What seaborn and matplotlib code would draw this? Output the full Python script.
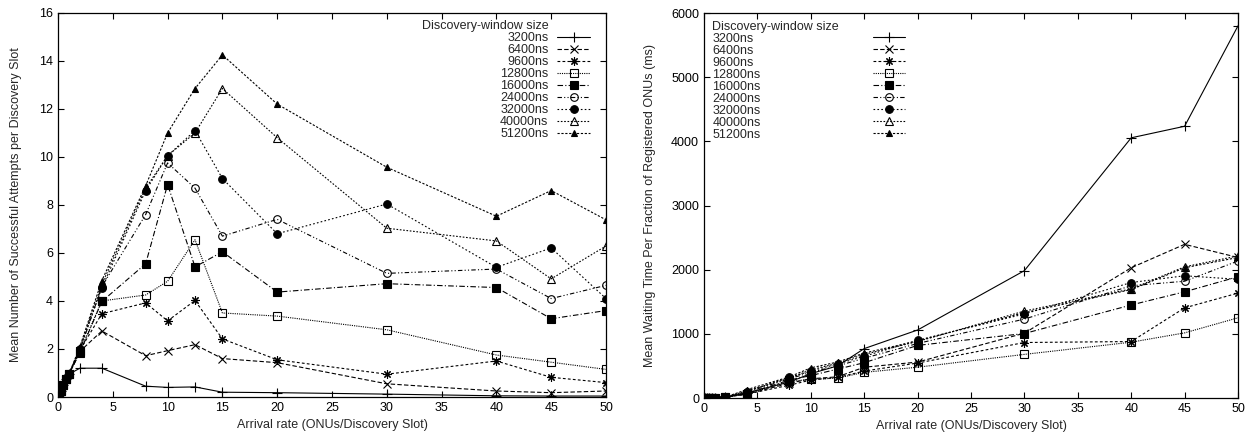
import numpy as np
import pandas as pd
import matplotlib
matplotlib.use("Agg")
import matplotlib.pyplot as plt
import seaborn as sns
from matplotlib.lines import Line2D

# arrival rate (ONUs per discovery slot)
x_rate = [0.1, 0.25, 0.5, 0.75, 1, 2, 4, 8, 10, 12.5, 15, 20, 30, 40, 45, 50]

windows = ["3200ns", "6400ns", "9600ns", "12800ns", "16000ns",
           "24000ns", "32000ns", "40000ns", "51200ns"]

# left panel: mean number of successful attempts per discovery slot
succ_3200 = [0.1, 0.25, 0.5, 0.75, 0.95, 1.2, 1.2, 0.45, 0.4, 0.42, 0.2, 0.18, 0.12, 0.05, 0.04, 0.04]
succ_6400 = [0.1, 0.25, 0.5, 0.75, 0.95, 1.9, 2.75, 1.72, 1.93, 2.18, 1.6, 1.43, 0.55, 0.25, 0.18, 0.25]
succ_9600 = [0.1, 0.25, 0.5, 0.75, 0.95, 1.95, 3.47, 3.92, 3.17, 4.02, 2.42, 1.55, 0.95, 1.5, 0.82, 0.6]
succ_12800 = [0.1, 0.25, 0.5, 0.75, 0.95, 1.9, 4.0, 4.25, 4.82, 6.55, 3.5, 3.37, 2.8, 1.75, 1.45, 1.15]
succ_16000 = [0.1, 0.25, 0.5, 0.75, 0.95, 1.85, 3.98, 5.55, 8.85, 5.42, 6.05, 4.37, 4.72, 4.56, 3.26, 3.6]
succ_24000 = [0.1, 0.25, 0.5, 0.75, 0.95, 1.95, 4.6, 7.6, 9.75, 8.7, 6.7, 7.4, 5.15, 5.33, 4.1, 4.65]
succ_32000 = [0.1, 0.25, 0.5, 0.75, 0.95, 2.0, 4.55, 8.6, 10.05, 11.1, 9.1, 6.8, 8.04, 5.4, 6.21, 4.1]
succ_40000 = [0.1, 0.25, 0.5, 0.75, 0.95, 2.05, 4.7, 8.7, 10.05, 11.0, 12.85, 10.8, 7.03, 6.5, 4.92, 6.29]
succ_51200 = [0.1, 0.25, 0.5, 0.75, 0.95, 2.1, 4.85, 8.8, 11.0, 12.85, 14.25, 12.2, 9.57, 7.53, 8.6, 7.38]

# right panel: mean waiting time per fraction of registered ONUs (ms)
wait_3200 = [5, 5, 6, 6, 7, 15, 80, 250, 380, 500, 770, 1060, 1985, 4055, 4235, 5800]
wait_6400 = [5, 5, 6, 6, 7, 15, 60, 230, 300, 330, 480, 560, 1010, 2030, 2395, 2190]
wait_9600 = [5, 5, 6, 6, 7, 15, 60, 200, 280, 320, 420, 545, 865, 880, 1405, 1635]
wait_12800 = [5, 5, 6, 6, 7, 15, 60, 260, 290, 310, 400, 480, 680, 870, 1015, 1250]
wait_16000 = [5, 5, 6, 6, 7, 15, 70, 280, 350, 450, 550, 820, 1005, 1450, 1655, 1890]
wait_24000 = [5, 5, 6, 6, 7, 15, 90, 300, 400, 500, 620, 850, 1230, 1750, 1820, 2135]
wait_32000 = [5, 5, 6, 6, 7, 15, 100, 320, 420, 530, 650, 900, 1310, 1800, 1905, 1850]
wait_40000 = [5, 5, 6, 6, 7, 15, 110, 310, 440, 540, 680, 880, 1355, 1700, 2045, 2215]
wait_51200 = [5, 5, 6, 6, 7, 15, 130, 330, 470, 560, 700, 890, 1330, 1690, 2030, 2190]

succ = [succ_3200, succ_6400, succ_9600, succ_12800, succ_16000,
        succ_24000, succ_32000, succ_40000, succ_51200]
wait = [wait_3200, wait_6400, wait_9600, wait_12800, wait_16000,
        wait_24000, wait_32000, wait_40000, wait_51200]

# gnuplot-like point/line types
styles = [
    dict(marker="+", linestyle="-", markersize=7, markerfacecolor="k"),
    dict(marker="x", linestyle=(0, (4, 2)), markersize=6, markerfacecolor="k"),
    dict(marker=(8, 2, 0), linestyle=(0, (2.5, 2)), markersize=6, markerfacecolor="k"),
    dict(marker="s", linestyle=(0, (1, 1)), markersize=5.5, markerfacecolor="none"),
    dict(marker="s", linestyle=(0, (5, 2, 1, 2)), markersize=6, markerfacecolor="k"),
    dict(marker="o", linestyle=(0, (4, 2, 1, 2, 1, 2)), markersize=5.5, markerfacecolor="none"),
    dict(marker="o", linestyle=(0, (1.5, 2)), markersize=5.5, markerfacecolor="k"),
    dict(marker="^", linestyle=(0, (1.5, 1.5)), markersize=6, markerfacecolor="none"),
    dict(marker="^", linestyle=(0, (2, 1.5)), markersize=4.5, markerfacecolor="k"),
]

sns.set_style("ticks")
plt.rcParams["font.family"] = ["Liberation Sans", "DejaVu Sans"]
plt.rcParams["font.size"] = 9
plt.rcParams["xtick.direction"] = "in"
plt.rcParams["ytick.direction"] = "in"
plt.rcParams["xtick.top"] = True
plt.rcParams["ytick.right"] = True
plt.rcParams["xtick.major.size"] = 4.5
plt.rcParams["ytick.major.size"] = 4.5

fig = plt.figure(figsize=(12.5, 4.38), dpi=100)
ax1 = fig.add_axes([0.0464, 0.0936, 0.4384, 0.877])
ax2 = fig.add_axes([0.5632, 0.0913, 0.4272, 0.879])

for ax, series in ((ax1, succ), (ax2, wait)):
    for name, y, st in zip(windows, series, styles):
        sns.lineplot(x=x_rate, y=y, ax=ax, color="k", linewidth=0.8,
                     markeredgecolor="k", markeredgewidth=0.8,
                     label=name, legend=False, **st)
    ax.set_xlim(0, 50)
    ax.set_xticks(range(0, 51, 5))
    ax.set_xlabel("Arrival rate (ONUs/Discovery Slot)")
    ax.tick_params(labelsize=9, width=0.8, colors="k")
    for s in ax.spines.values():
        s.set_linewidth(0.9)
        s.set_color("k")

ax1.set_ylim(0, 16)
ax1.set_yticks(range(0, 17, 2))
ax1.set_ylabel("Mean Number of Successful Attempts per Discovery Slot", labelpad=12.5)
ax2.set_ylim(0, 6000)
ax2.set_yticks(range(0, 6001, 1000))
ax2.set_ylabel("Mean Waiting Time Per Fraction of Registered ONUs (ms)", labelpad=11)

title_h = Line2D([], [], linestyle="none")

h, l = ax1.get_legend_handles_labels()
leg1 = ax1.legend([title_h] + h, ["Discovery-window size"] + l,
                  loc="upper right", bbox_to_anchor=(0.975, 0.987),
                  markerfirst=False, frameon=False, fontsize=9,
                  labelspacing=0.0, handlelength=2.6, handletextpad=0.7,
                  borderpad=0.2, borderaxespad=0)

h, l = ax2.get_legend_handles_labels()
leg2 = ax2.legend([title_h] + h, ["Discovery-window size"] + l,
                  loc="upper left", bbox_to_anchor=(0.011, 0.987),
                  markerfirst=False, frameon=False, fontsize=9,
                  labelspacing=0.0, handlelength=2.6, handletextpad=0.7,
                  borderpad=0.2, borderaxespad=0)
# gnuplot puts the keys of the right plot far right of left-aligned labels
for col in leg2._legend_handle_box.get_children():
    for row in col.get_children():
        row.mode = "expand"
        row.width = 193

fig.savefig("out.png", dpi=100)
